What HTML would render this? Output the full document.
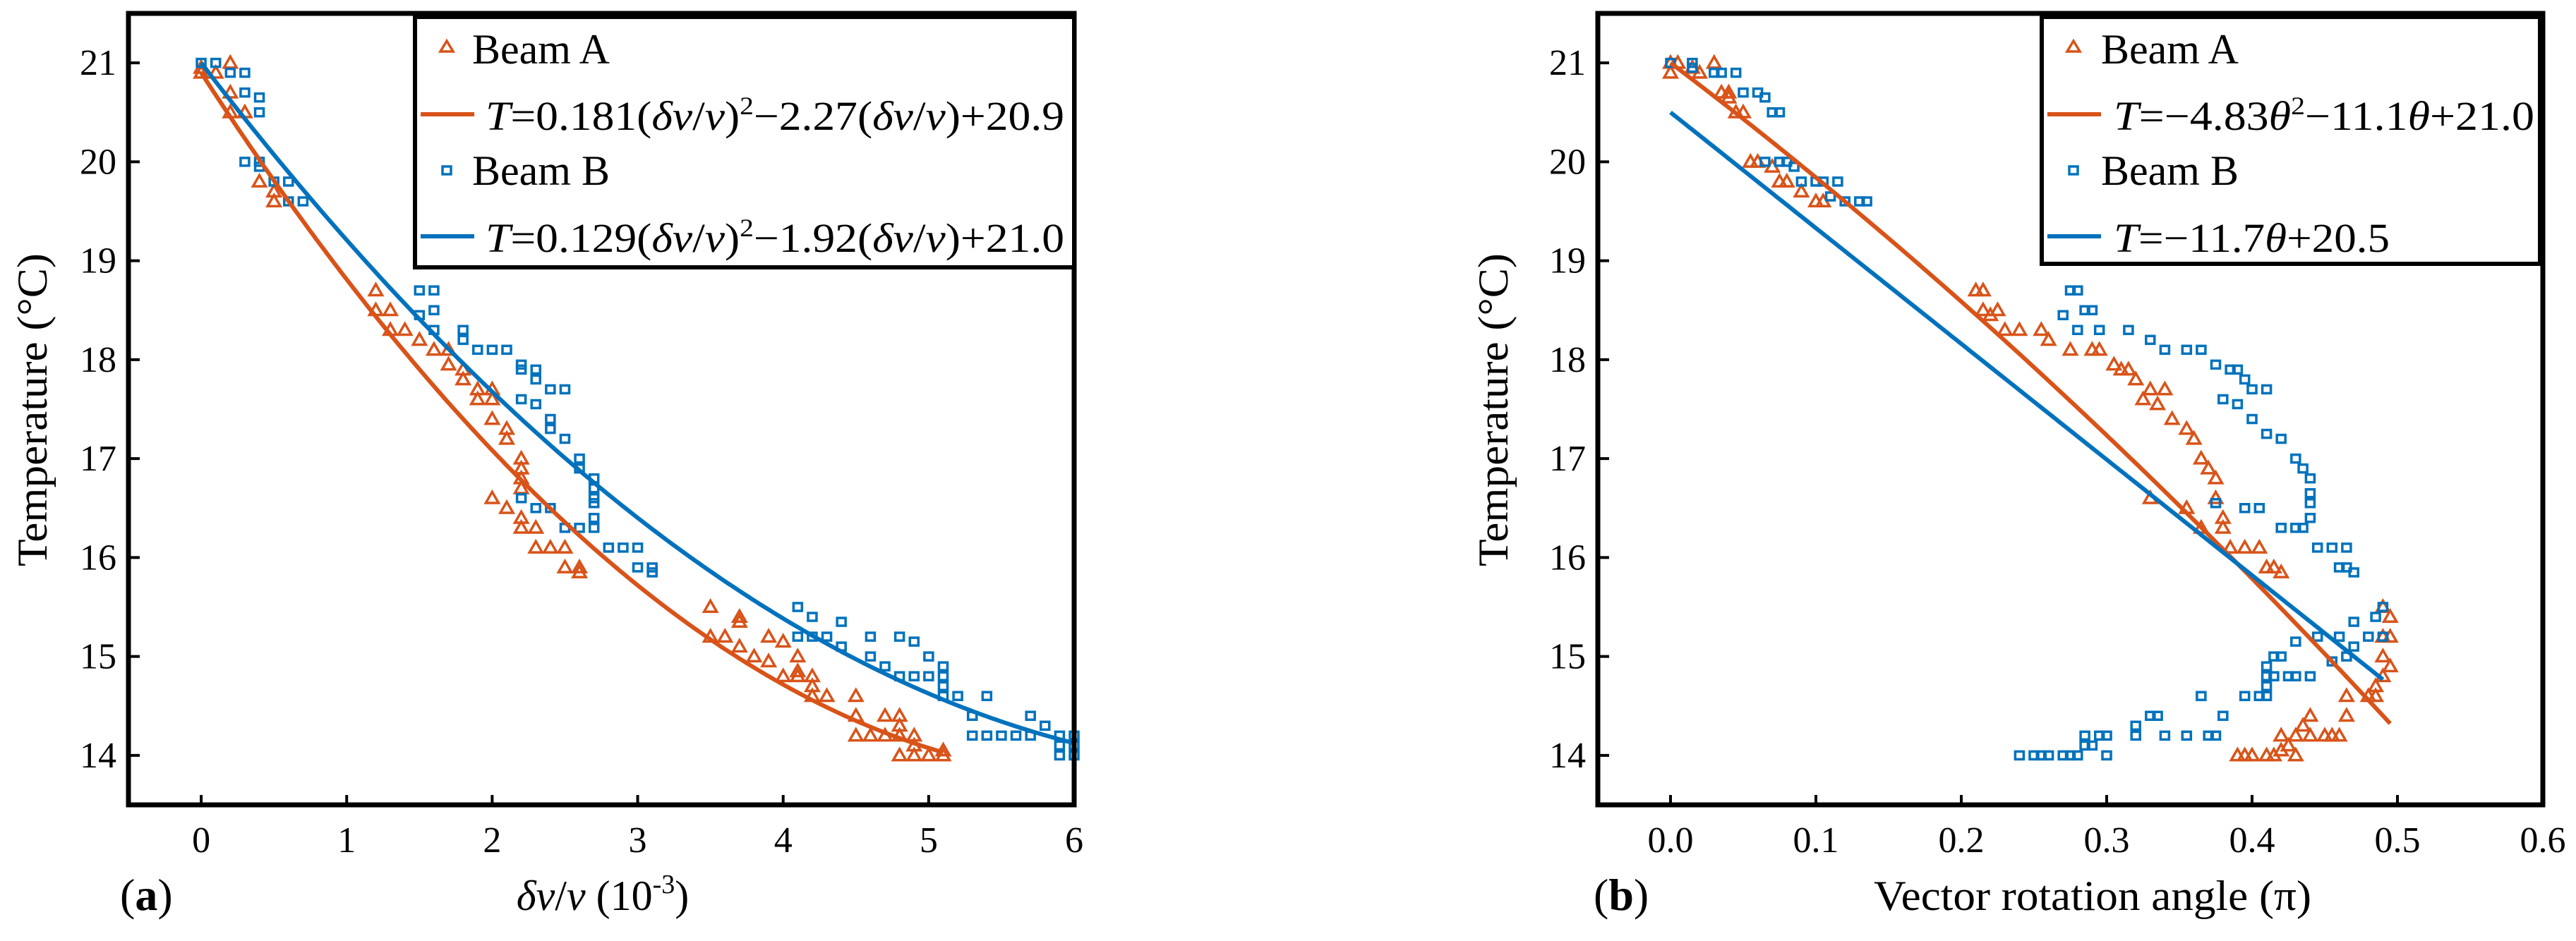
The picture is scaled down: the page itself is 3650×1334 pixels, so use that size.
<!DOCTYPE html>
<html><head><meta charset="utf-8"><style>
html,body{margin:0;padding:0;background:#fff;}
svg{display:block;font-family:"Liberation Serif",serif;}
svg text{font-family:"Liberation Serif",serif;}
</style></head><body>
<svg id="fig" width="3650" height="1334" viewBox="0 0 3650 1334" xmlns="http://www.w3.org/2000/svg" font-family="Liberation Serif, serif">
<g id="pa"></g>
<g id="pb"></g>
</svg>
<script>
const NS="http://www.w3.org/2000/svg";
const RED="#D95319", BLUE="#0072BD";
// ---- Panel (a) data ----
const aXTicks=[0,1,2,3,4,5,6];
const aXTickLabels=["0","1","2","3","4","5","6"];
const yTicks=[14,15,16,17,18,19,20,21];
const yTickLabels=["14","15","16","17","18","19","20","21"];
const aAx=[0,0,0.1,0.2,0.2,0.2,0.3,0.4,0.5,0.5,1.2,1.2,1.3,1.3,1.4,1.5,1.6,1.7,1.7,1.8,1.8,1.9,1.9,2.0,2.0,2.0,2.1,2.1,2.2,2.2,2.2,2.2,2.2,2.2,2.3,2.0,2.1,2.3,2.4,2.5,2.5,2.6,2.6,3.5,3.5,3.6,3.7,3.7,3.7,3.8,3.9,3.9,4.0,4.0,4.1,4.1,4.1,4.2,4.2,4.2,4.3,4.5,4.5,4.5,4.6,4.7,4.7,4.8,4.8,4.8,4.8,4.9,4.9,4.9,5.0,5.1,5.1];
const aAy=[20.9,20.95,20.9,21,20.5,20.7,20.5,19.8,19.6,19.7,18.7,18.5,18.5,18.3,18.3,18.2,18.1,17.95,18.1,17.8,17.9,17.6,17.7,17.7,17.6,17.4,17.3,17.2,17,16.9,16.8,16.7,16.4,16.3,16.3,16.6,16.5,16.1,16.1,16.1,15.9,15.9,15.85,15.5,15.2,15.2,15.4,15.35,15.1,15,15.2,14.95,15.15,14.8,15,14.85,14.8,14.8,14.7,14.6,14.6,14.6,14.4,14.2,14.2,14.4,14.2,14.4,14.3,14.2,14,14.2,14.1,14,14,14,14.05];
const aBx=[0,0.1,0.2,0.3,0.3,0.4,0.4,0.3,0.4,0.4,0.5,0.6,0.6,0.7,1.5,1.6,1.5,1.6,1.6,1.8,1.8,1.9,2.0,2.1,2.2,2.2,2.3,2.3,2.4,2.5,2.2,2.3,2.4,2.4,2.5,2.6,2.6,2.7,2.7,2.7,2.7,2.7,2.7,2.6,2.5,2.2,2.3,2.4,2.8,2.9,3.0,3.0,3.1,3.1,4.1,4.2,4.4,4.1,4.2,4.3,4.4,4.6,4.6,4.7,4.8,4.9,5.0,4.8,4.9,5.0,5.1,5.1,5.1,5.1,5.2,5.4,5.3,5.3,5.4,5.5,5.6,5.7,5.7,5.8,5.9,5.9,5.9,6,6,6];
const aBy=[21,21,20.9,20.9,20.7,20.65,20.5,20,20,19.95,19.8,19.8,19.6,19.6,18.7,18.7,18.45,18.5,18.3,18.3,18.2,18.1,18.1,18.1,17.95,17.9,17.9,17.8,17.7,17.7,17.6,17.55,17.4,17.3,17.2,17,16.9,16.8,16.7,16.6,16.55,16.4,16.3,16.3,16.3,16.6,16.5,16.5,16.1,16.1,16.1,15.9,15.9,15.85,15.5,15.4,15.35,15.2,15.2,15.2,15.1,15.2,15,14.9,15.2,15.15,15,14.8,14.8,14.8,14.9,14.8,14.7,14.6,14.6,14.6,14.4,14.2,14.2,14.2,14.2,14.2,14.4,14.3,14.2,14.1,14,14.2,14.1,14];
const aFitA=[0.181,-2.27,20.9], aFitAMax=5.1;
const aFitB=[0.129,-1.92,21.0], aFitBMax=6.0;
// ---- Panel (b) data ----
const bXTicks=[0,0.1,0.2,0.3,0.4,0.5,0.6];
const bXTickLabels=["0.0","0.1","0.2","0.3","0.4","0.5","0.6"];
const bAx=[0,0,0.005,0.015,0.02,0.03,0.035,0.04,0.04,0.045,0.05,0.055,0.06,0.07,0.075,0.08,0.09,0.1,0.105,0.21,0.215,0.215,0.22,0.225,0.23,0.24,0.255,0.26,0.275,0.29,0.295,0.305,0.31,0.315,0.32,0.325,0.33,0.335,0.34,0.345,0.355,0.36,0.365,0.37,0.375,0.375,0.38,0.38,0.33,0.355,0.365,0.385,0.395,0.405,0.41,0.415,0.42,0.49,0.495,0.49,0.495,0.49,0.495,0.49,0.485,0.48,0.485,0.465,0.465,0.44,0.435,0.43,0.44,0.45,0.455,0.46,0.42,0.425,0.415,0.41,0.4,0.39,0.395,0.43,0.42];
const bAy=[20.9,21,21,20.95,20.9,21,20.7,20.7,20.65,20.5,20.5,20,20,19.95,19.8,19.8,19.7,19.6,19.6,18.7,18.7,18.5,18.45,18.5,18.3,18.3,18.3,18.2,18.1,18.1,18.1,17.95,17.9,17.9,17.8,17.6,17.7,17.55,17.7,17.4,17.3,17.2,17,16.9,16.8,16.6,16.4,16.3,16.6,16.5,16.3,16.1,16.1,16.1,15.9,15.9,15.85,15.5,15.4,15.2,15.2,15.0,14.9,14.8,14.7,14.6,14.6,14.6,14.4,14.4,14.3,14.2,14.2,14.2,14.2,14.2,14.2,14.1,14,14,14,14,14,14,14.05];
const bBx=[0,0.015,0.015,0.03,0.035,0.045,0.05,0.06,0.065,0.07,0.075,0.065,0.075,0.08,0.085,0.09,0.1,0.105,0.115,0.11,0.12,0.13,0.135,0.275,0.28,0.27,0.285,0.29,0.28,0.295,0.315,0.33,0.34,0.355,0.365,0.375,0.385,0.39,0.395,0.4,0.41,0.38,0.39,0.4,0.41,0.42,0.43,0.435,0.44,0.44,0.44,0.44,0.42,0.43,0.435,0.375,0.395,0.405,0.445,0.455,0.465,0.46,0.465,0.47,0.49,0.485,0.47,0.48,0.49,0.445,0.46,0.47,0.43,0.465,0.455,0.415,0.42,0.41,0.41,0.415,0.425,0.43,0.44,0.41,0.405,0.41,0.395,0.365,0.38,0.33,0.335,0.32,0.32,0.3,0.295,0.285,0.34,0.355,0.37,0.375,0.29,0.285,0.24,0.25,0.255,0.26,0.27,0.275,0.28,0.3];
const bBy=[21,21,20.95,20.9,20.9,20.9,20.7,20.7,20.65,20.5,20.5,20,20,20,19.95,19.8,19.8,19.8,19.8,19.65,19.6,19.6,19.6,18.7,18.7,18.45,18.5,18.5,18.3,18.3,18.3,18.2,18.1,18.1,18.1,17.95,17.9,17.9,17.8,17.7,17.7,17.6,17.55,17.4,17.25,17.2,17,16.9,16.8,16.65,16.55,16.4,16.3,16.3,16.3,16.55,16.5,16.5,16.1,16.1,16.1,15.9,15.9,15.85,15.5,15.4,15.35,15.2,15.2,15.2,15.2,15.1,15.15,15,14.95,15,15,14.9,14.8,14.8,14.8,14.8,14.8,14.7,14.6,14.6,14.6,14.6,14.4,14.4,14.4,14.3,14.2,14.2,14.2,14.2,14.2,14.2,14.2,14.2,14.1,14.1,14,14,14,14,14,14,14,14];
const bFitA=[-4.83,-11.1,21.0], bFitAMax=0.495;
const bFitB=[0,-11.7,20.5], bFitBMax=0.49;

function el(parent,tag,attrs,text){const e=document.createElementNS(NS,tag);for(const k in attrs)e.setAttribute(k,attrs[k]);if(text!==undefined)e.textContent=text;parent.appendChild(e);return e;}

function panel(g,cfg){
  const L=cfg.left,R=cfg.right,T=19,B=1141;
  const sx=v=>L+(v-cfg.xmin)/(cfg.xmax-cfg.xmin)*(R-L);
  const sy=v=>T+(21.5-v)/(8)*(B-T);
  function fit(c,max,color,name){
    let d="";for(let i=0;i<=200;i++){const x=max*i/200;const y=c[0]*x*x+c[1]*x+c[2];d+=(i?"L":"M")+sx(x).toFixed(1)+","+sy(y).toFixed(1);}
    const p=el(g,"path",{d:d,fill:"none",stroke:color,"stroke-width":6});
    
    
  }
  function tri(x,y,color,name){const s=9;const p=el(g,"polygon",{points:`${x},${y-s} ${x-s},${y+s*0.75} ${x+s},${y+s*0.75}`,fill:"none",stroke:color,"stroke-width":3.5});
    
    }
  function sq(x,y,color,name){const p=el(g,"rect",{x:x-6,y:y-5.5,width:12,height:11,fill:"none",stroke:color,"stroke-width":3.5});
    
    }
  cfg.ax.forEach((v,i)=>tri(sx(v),sy(cfg.ay[i]),RED,"beam-a-point"));
  cfg.bx.forEach((v,i)=>sq(sx(v),sy(cfg.by[i]),BLUE,"beam-b-point"));
  fit(cfg.fitA,cfg.fitAMax,RED,"beam-a-fit-line");
  fit(cfg.fitB,cfg.fitBMax,BLUE,"beam-b-fit-line");
  const f=el(g,"rect",{x:L,y:T,width:R-L,height:B-T,fill:"none",stroke:"#000","stroke-width":7});
  
  cfg.xt.forEach((v,i)=>{const x=sx(v);el(g,"line",{x1:x,y1:B,x2:x,y2:B-14,stroke:"#000","stroke-width":4});
    const t=el(g,"text",{x:x,y:1208,"font-size":52,"text-anchor":"middle","font-family":"Liberation Serif, serif"},cfg.xl[i]);
    });
  yTicks.forEach((v,i)=>{const y=sy(v);el(g,"line",{x1:L,y1:y,x2:L+16,y2:y,stroke:"#000","stroke-width":4});
    const t=el(g,"text",{x:L-17,y:y+17,"font-size":52,"text-anchor":"end","font-family":"Liberation Serif, serif"},yTickLabels[i]);
    });
}
const pa=document.getElementById('pa'), pb=document.getElementById('pb');
panel(pa,{left:182,right:1522,xmin:-0.5,xmax:6,ax:aAx,ay:aAy,bx:aBx,by:aBy,fitA:aFitA,fitAMax:aFitAMax,fitB:aFitB,fitBMax:aFitBMax,xt:aXTicks,xl:aXTickLabels});
panel(pb,{left:2264,right:3603,xmin:-0.05,xmax:0.6,ax:bAx,ay:bAy,bx:bBx,by:bBy,fitA:bFitA,fitAMax:bFitAMax,fitB:bFitB,fitBMax:bFitBMax,xt:bXTicks,xl:bXTickLabels});

const svg=document.getElementById('fig');
svg.insertAdjacentHTML('beforeend',`
<g font-family="Liberation Serif, serif">
<rect x="588" y="24" width="934" height="355" fill="#fff" stroke="#000" stroke-width="6"/>
<polygon points="633,58 624,73 642,73" fill="none" stroke="${RED}" stroke-width="3.5"/>
<text x="669" y="90" font-size="60" font-family="Liberation Serif, serif">Beam A</text>
<line x1="596" y1="162" x2="672" y2="162" stroke="${RED}" stroke-width="6"/>
<text x="688" y="184" font-size="58" font-family="Liberation Serif, serif" textLength="820" lengthAdjust="spacingAndGlyphs"><tspan font-style="italic">T</tspan>=0.181(<tspan font-style="italic">δv</tspan>/<tspan font-style="italic">v</tspan>)<tspan font-size="36" dy="-22">2</tspan><tspan dy="22">−2.27(</tspan><tspan font-style="italic">δv</tspan>/<tspan font-style="italic">v</tspan>)+20.9</text>
<rect x="627" y="236" width="12" height="11" fill="none" stroke="${BLUE}" stroke-width="3.5"/>
<text x="669" y="262" font-size="60" font-family="Liberation Serif, serif">Beam B</text>
<line x1="596" y1="335" x2="672" y2="335" stroke="${BLUE}" stroke-width="6"/>
<text x="688" y="357" font-size="58" font-family="Liberation Serif, serif" textLength="820" lengthAdjust="spacingAndGlyphs"><tspan font-style="italic">T</tspan>=0.129(<tspan font-style="italic">δv</tspan>/<tspan font-style="italic">v</tspan>)<tspan font-size="36" dy="-22">2</tspan><tspan dy="22">−1.92(</tspan><tspan font-style="italic">δv</tspan>/<tspan font-style="italic">v</tspan>)+21.0</text>
</g>
<g font-family="Liberation Serif, serif">
<rect x="2893" y="24" width="706" height="350" fill="#fff" stroke="#000" stroke-width="6"/>
<polygon points="2938,58 2929,73 2947,73" fill="none" stroke="${RED}" stroke-width="3.5"/>
<text x="2977" y="90" font-size="60" font-family="Liberation Serif, serif">Beam A</text>
<line x1="2901" y1="162" x2="2977" y2="162" stroke="${RED}" stroke-width="6"/>
<text x="2995" y="184" font-size="58" font-family="Liberation Serif, serif" textLength="596" lengthAdjust="spacingAndGlyphs"><tspan font-style="italic">T</tspan>=−4.83<tspan font-style="italic">θ</tspan><tspan font-size="36" dy="-22">2</tspan><tspan dy="22">−11.1</tspan><tspan font-style="italic">θ</tspan>+21.0</text>
<rect x="2932" y="236" width="12" height="11" fill="none" stroke="${BLUE}" stroke-width="3.5"/>
<text x="2977" y="262" font-size="60" font-family="Liberation Serif, serif">Beam B</text>
<line x1="2901" y1="335" x2="2977" y2="335" stroke="${BLUE}" stroke-width="6"/>
<text x="2995" y="357" font-size="58" font-family="Liberation Serif, serif" textLength="391" lengthAdjust="spacingAndGlyphs"><tspan font-style="italic">T</tspan>=−11.7<tspan font-style="italic">θ</tspan>+20.5</text>
</g>
<text transform="translate(66,581) rotate(-90)" font-size="60" font-family="Liberation Serif, serif" text-anchor="middle" textLength="444" lengthAdjust="spacingAndGlyphs">Temperature (°C)</text>
<text transform="translate(2136,581) rotate(-90)" font-size="60" font-family="Liberation Serif, serif" text-anchor="middle" textLength="444" lengthAdjust="spacingAndGlyphs">Temperature (°C)</text>
<text x="854" y="1290" font-size="60" font-family="Liberation Serif, serif" text-anchor="middle"><tspan font-style="italic">δv</tspan>/<tspan font-style="italic">ν</tspan> (10<tspan font-size="38" dy="-24">-3</tspan><tspan dy="24">)</tspan></text>
<text x="2965" y="1290" font-size="60" font-family="Liberation Serif, serif" text-anchor="middle" textLength="620" lengthAdjust="spacingAndGlyphs">Vector rotation angle (π)</text>
<text x="170" y="1290" font-size="64" font-family="Liberation Serif, serif">(<tspan font-weight="bold">a</tspan>)</text>
<text x="2258" y="1290" font-size="64" font-family="Liberation Serif, serif">(<tspan font-weight="bold">b</tspan>)</text>
`);
</script>
</body></html>
